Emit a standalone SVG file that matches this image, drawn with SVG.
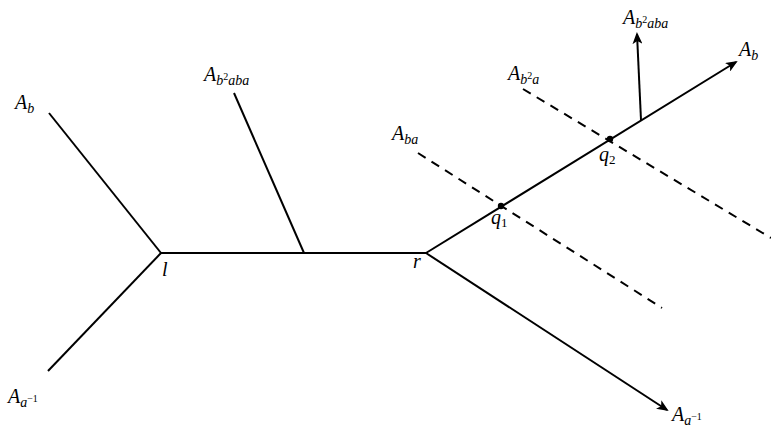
<svg xmlns="http://www.w3.org/2000/svg" width="771" height="430" viewBox="0 0 771 430">
<style>
.e{stroke:#000;stroke-width:2;fill:none}
.d{stroke:#000;stroke-width:2;fill:none;stroke-dasharray:9,7}
text{font-family:"Liberation Serif","DejaVu Serif",serif;font-style:italic;fill:#000}
.m{font-size:20px}
.s{font-size:14px}
.t{font-size:10px;font-style:normal}
</style>
<defs>
<marker id="ar" viewBox="0 0 12 10" refX="10" refY="5" markerWidth="6" markerHeight="5" orient="auto" markerUnits="strokeWidth">
<path d="M0,0 L12,5 L0,10 L3,5 Z" fill="#000"/>
</marker>
</defs>
<rect width="771" height="430" fill="#fff"/>
<g id="connectors">
<line class="e" x1="161" y1="253" x2="426" y2="253"/>
<line class="e" x1="161" y1="253" x2="49" y2="113"/>
<line class="e" x1="161" y1="253" x2="48" y2="371"/>
<line class="e" x1="304" y1="253" x2="234" y2="93"/>
<line class="e" x1="426" y1="253" x2="667" y2="410" marker-end="url(#ar)"/>
<line class="e" x1="426" y1="253" x2="736" y2="62" marker-end="url(#ar)"/>
<line class="e" x1="641" y1="120" x2="637" y2="34" marker-end="url(#ar)"/>
<line class="d" x1="418" y1="153" x2="662" y2="308"/>
<line class="d" x1="523" y1="89" x2="771" y2="238"/>
</g>
<g id="l"><text class="m" x="162" y="276">l</text></g>
<g id="r"><text class="m" x="413" y="268">r</text></g>
<g id="q1"><circle cx="501" cy="206" r="3.2"/><text class="m" x="491" y="224">q<tspan class="t" dy="3" style="font-size:13px">1</tspan></text></g>
<g id="q2"><circle cx="610" cy="139" r="3.2"/><text class="m" x="599" y="161">q<tspan class="t" dy="3" style="font-size:13px">2</tspan></text></g>
<g id="Ab-left"><text class="m" x="15" y="109">A<tspan class="s" dy="4">b</tspan></text></g>
<g id="Ab2aba-mid"><text class="m" x="204" y="81">A<tspan class="s" dy="4">b</tspan><tspan class="t" dy="-5">2</tspan><tspan class="s" dy="5">aba</tspan></text></g>
<g id="Aba"><text class="m" x="392" y="140">A<tspan class="s" dy="4">ba</tspan></text></g>
<g id="Ab2a"><text class="m" x="508" y="80">A<tspan class="s" dy="4">b</tspan><tspan class="t" dy="-5">2</tspan><tspan class="s" dy="5">a</tspan></text></g>
<g id="Ab2aba-top"><text class="m" x="623" y="24">A<tspan class="s" dy="4">b</tspan><tspan class="t" dy="-5">2</tspan><tspan class="s" dy="5">aba</tspan></text></g>
<g id="Ab-right"><text class="m" x="739" y="56">A<tspan class="s" dy="4">b</tspan></text></g>
<g id="Aainv-left"><text class="m" x="8" y="403">A<tspan class="s" dy="4">a</tspan><tspan class="t" dy="-5">−1</tspan></text></g>
<g id="Aainv-right"><text class="m" x="672" y="421">A<tspan class="s" dy="4">a</tspan><tspan class="t" dy="-5">−1</tspan></text></g>
</svg>
